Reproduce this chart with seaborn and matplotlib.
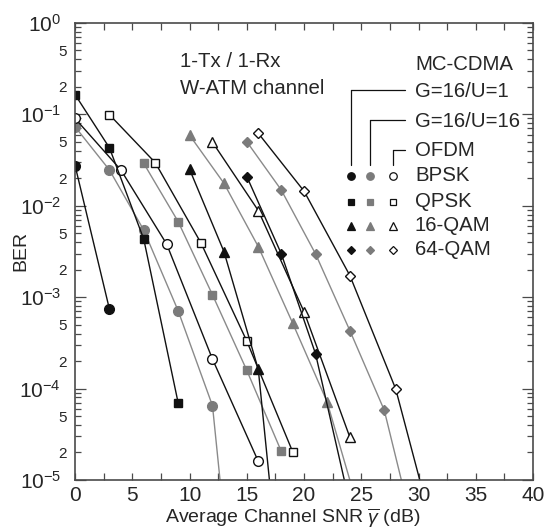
import numpy as np
import pandas as pd
import matplotlib
matplotlib.use("Agg")
import matplotlib.pyplot as plt
from matplotlib.ticker import LogLocator, FuncFormatter, MultipleLocator
import seaborn as sns

# ---------------- data ----------------
snr_bpsk_u1 = [0, 3]
ber_bpsk_u1 = [2.75e-2, 7.4e-4]
snr_bpsk_u16 = [0, 3, 6, 9, 12, 15]
ber_bpsk_u16 = [7.3e-2, 2.46e-2, 5.4e-3, 7.1e-4, 6.5e-5, 1.3e-8]
snr_bpsk_ofdm = [0, 4, 8, 12, 16]
ber_bpsk_ofdm = [9.0e-2, 2.46e-2, 3.8e-3, 2.1e-4, 1.6e-5]

snr_qpsk_u1 = [0, 3, 6, 9]
ber_qpsk_u1 = [1.64e-1, 4.3e-2, 4.3e-3, 7.0e-5]
snr_qpsk_u16 = [6, 9, 12, 15, 18]
ber_qpsk_u16 = [2.9e-2, 6.7e-3, 1.06e-3, 1.58e-4, 2.07e-5]
snr_qpsk_ofdm = [3, 7, 11, 15, 19]
ber_qpsk_ofdm = [9.9e-2, 2.96e-2, 3.9e-3, 3.3e-4, 2.04e-5]

snr_16qam_u1 = [10, 13, 16, 19]
ber_16qam_u1 = [2.5e-2, 3.15e-3, 1.62e-4, 3e-8]
snr_16qam_u16 = [10, 13, 16, 19, 22, 25]
ber_16qam_u16 = [5.9e-2, 1.76e-2, 3.57e-3, 5.2e-4, 7.2e-5, 3.7e-6]
snr_16qam_ofdm = [12, 16, 20, 24]
ber_16qam_ofdm = [4.95e-2, 8.85e-3, 6.9e-4, 2.93e-5]

snr_64qam_u1 = [15, 18, 21, 24]
ber_64qam_u1 = [2.08e-2, 3.0e-3, 2.4e-4, 5.4e-6]
snr_64qam_u16 = [15, 18, 21, 24, 27, 30]
ber_64qam_u16 = [5.0e-2, 1.49e-2, 2.97e-3, 4.3e-4, 5.8e-5, 1.7e-6]
snr_64qam_ofdm = [16, 20, 24, 28, 32]
ber_64qam_ofdm = [6.2e-2, 1.44e-2, 1.72e-3, 9.9e-5, 1.26e-6]

systems = ["G=16/U=1", "G=16/U=16", "OFDM"]
modulations = ["BPSK", "QPSK", "16-QAM", "64-QAM"]
annotation = ["1-Tx / 1-Rx", "W-ATM channel"]
legend_title = "MC-CDMA"

# ---------------- style ----------------
sns.set_style("ticks")
plt.rcParams["font.family"] = ["Liberation Sans", "DejaVu Sans"]
plt.rcParams["mathtext.fontset"] = "custom"
plt.rcParams["mathtext.rm"] = "Liberation Sans"
plt.rcParams["mathtext.it"] = "Liberation Sans:italic"
plt.rcParams["mathtext.bf"] = "Liberation Sans:bold"

BLACK = "#111111"
GRAY_M = "#7b7b7b"
GRAY_L = "#8a8a8a"
FRAME = "#4a4a4a"
TXT = 14.7

fig = plt.figure(figsize=(5.44, 5.31), dpi=100)
ax = fig.add_axes([0.138, 0.096, 0.842, 0.861])

markers = {"BPSK": "o", "QPSK": "s", "16-QAM": "^", "64-QAM": "D"}
msize = {"BPSK": 7.0, "QPSK": 6.4, "16-QAM": 7.6, "64-QAM": 5.6}

series = [
    ("BPSK", 0, snr_bpsk_u1, ber_bpsk_u1),
    ("BPSK", 1, snr_bpsk_u16, ber_bpsk_u16),
    ("BPSK", 2, snr_bpsk_ofdm, ber_bpsk_ofdm),
    ("QPSK", 0, snr_qpsk_u1, ber_qpsk_u1),
    ("QPSK", 1, snr_qpsk_u16, ber_qpsk_u16),
    ("QPSK", 2, snr_qpsk_ofdm, ber_qpsk_ofdm),
    ("16-QAM", 0, snr_16qam_u1, ber_16qam_u1),
    ("16-QAM", 1, snr_16qam_u16, ber_16qam_u16),
    ("16-QAM", 2, snr_16qam_ofdm, ber_16qam_ofdm),
    ("64-QAM", 0, snr_64qam_u1, ber_64qam_u1),
    ("64-QAM", 1, snr_64qam_u16, ber_64qam_u16),
    ("64-QAM", 2, snr_64qam_ofdm, ber_64qam_ofdm),
]


def style_for(sys_idx):
    if sys_idx == 0:
        return dict(color=BLACK, mfc=BLACK, mec=BLACK)
    if sys_idx == 1:
        return dict(color=GRAY_L, mfc=GRAY_M, mec=GRAY_M)
    return dict(color=BLACK, mfc="white", mec=BLACK)


for mod, si, xs, ys in series:
    st = style_for(si)
    df = pd.DataFrame({"snr": xs, "ber": ys})
    sns.lineplot(data=df, x="snr", y="ber", ax=ax, estimator=None, sort=False,
                 color=st["color"], linewidth=1.0, marker=markers[mod],
                 markersize=msize[mod], markerfacecolor=st["mfc"],
                 markeredgecolor=st["mec"], markeredgewidth=1.0, legend=False)

ax.set_yscale("log")
ax.set_xlim(0, 40)
ax.set_ylim(1e-5, 1)

# ticks
ax.xaxis.set_major_locator(MultipleLocator(5))
ax.xaxis.set_minor_locator(MultipleLocator(2.5))
ax.yaxis.set_major_locator(LogLocator(base=10, numticks=10))
ax.yaxis.set_minor_locator(LogLocator(base=10, subs=np.arange(2, 10), numticks=20))


def major_fmt(v, pos):
    e = int(round(np.log10(v)))
    return r"$\mathregular{10^{%d}}$" % e


def minor_fmt(v, pos):
    e = np.floor(np.log10(v) + 1e-9)
    m = v / 10 ** e
    if abs(m - 2) < 1e-6:
        return "2"
    if abs(m - 5) < 1e-6:
        return "5"
    return ""


ax.yaxis.set_major_formatter(FuncFormatter(major_fmt))
ax.yaxis.set_minor_formatter(FuncFormatter(minor_fmt))
ax.xaxis.set_minor_formatter(FuncFormatter(lambda v, p: ""))

ax.tick_params(axis="both", which="both", direction="in", top=True, right=True,
               color=FRAME, width=0.9)
ax.tick_params(axis="x", which="both", length=5, labelsize=15, pad=4)
ax.tick_params(axis="y", which="major", length=8, labelsize=15, pad=10)
ax.tick_params(axis="y", which="minor", length=4.5, labelsize=11, pad=6)

for sp in ax.spines.values():
    sp.set_color(FRAME)
    sp.set_linewidth(1.2)

ax.set_xlabel(r"Average Channel SNR $\overline{\gamma}$ (dB)", fontsize=14)
ax.set_ylabel("BER", fontsize=14)
ax.xaxis.set_label_coords(0.475, -0.058)
ax.yaxis.set_label_coords(-0.1, 0.5)

# annotation text
ax.text(0.229, 0.915, annotation[0], transform=ax.transAxes, fontsize=TXT,
        va="center", ha="left")
ax.text(0.229, 0.857, annotation[1], transform=ax.transAxes, fontsize=TXT,
        va="center", ha="left")

# custom legend
tx = 0.742
ax.text(tx, 0.908, legend_title, transform=ax.transAxes, fontsize=TXT, va="center", ha="left")
sys_y = [0.849, 0.7834, 0.7199]
col_x = [0.6026, 0.6434, 0.6937]
for i, name in enumerate(systems):
    ax.text(tx, sys_y[i], name, transform=ax.transAxes, fontsize=TXT, va="center", ha="left")
    ax.plot([col_x[i], 0.7205], [sys_y[i] + 0.003, sys_y[i] + 0.003], transform=ax.transAxes,
            color=BLACK, lw=0.9, clip_on=False)
    ax.plot([col_x[i], col_x[i]], [sys_y[i] + 0.003, 0.6893], transform=ax.transAxes,
            color=BLACK, lw=0.9, clip_on=False)

row_y = [0.6652, 0.6083, 0.5558, 0.5033]
leg_ms = {"BPSK": 5.4, "QPSK": 5.0, "16-QAM": 5.8, "64-QAM": 4.3}
for r, mod in enumerate(modulations):
    ax.text(tx, row_y[r], mod, transform=ax.transAxes, fontsize=TXT, va="center", ha="left")
    for i in range(3):
        st = style_for(i)
        ax.plot([col_x[i]], [row_y[r]], transform=ax.transAxes, marker=markers[mod],
                ms=leg_ms[mod], mfc=st["mfc"], mec=st["mec"], mew=0.9, ls="none",
                clip_on=False)

fig.savefig("out.png", dpi=100)
